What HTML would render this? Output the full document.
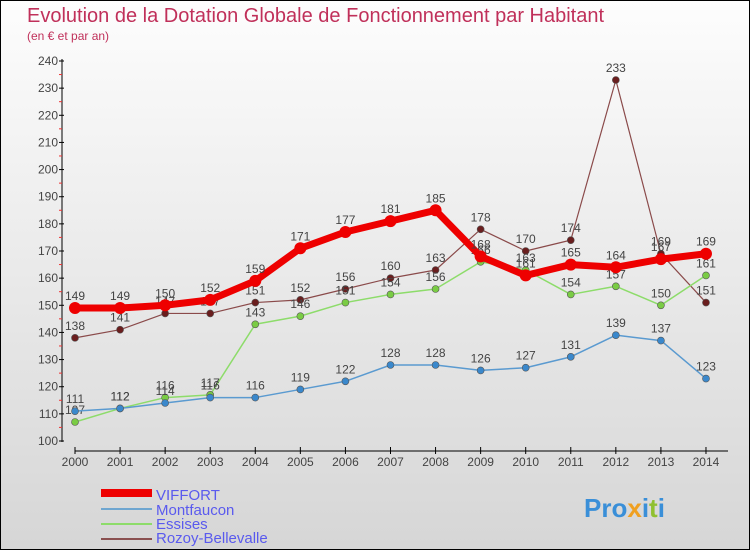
<!DOCTYPE html>
<html><head><meta charset="utf-8"><style>
body{margin:0}
#c{width:750px;height:550px;position:relative;box-sizing:border-box;border:1px solid #000;background:linear-gradient(#fdfdfd,#d6d6d6);font-family:"Liberation Sans",sans-serif;overflow:hidden}
</style></head><body>
<div id="c">
<svg id="s" width="748" height="548" style="position:absolute;left:0;top:0" font-family="Liberation Sans, sans-serif">
<text x="26" y="21" font-size="20" fill="#c0305a">Evolution de la Dotation Globale de Fonctionnement par Habitant</text>
<text x="26" y="39" font-size="12" fill="#c0305a">(en € et par an)</text>
<g id="axes"></g><g id="series"></g>
<g>
<rect x="100" y="488" width="51" height="8" fill="#e00"/>
<text x="155" y="499" font-size="15" fill="#5a5aee">VIFFORT</text>
<rect x="100" y="507" width="51" height="2" fill="#6fa6d0"/>
<text x="155" y="514" font-size="15" fill="#5a5aee">Montfaucon</text>
<rect x="100" y="522" width="51" height="2" fill="#8ddc6a"/>
<text x="155" y="528" font-size="15" fill="#5a5aee">Essises</text>
<rect x="100" y="537" width="51" height="2" fill="#8a5050"/>
<text x="155" y="542" font-size="15" fill="#5a5aee">Rozoy-Bellevalle</text>
</g>
<text x="583" y="516" font-size="26" font-weight="bold" fill="#3a8fd8">Pro<tspan fill="#f0a020">x</tspan><tspan fill="#3a8fd8">i</tspan><tspan fill="#90c030">t</tspan><tspan fill="#3a8fd8">i</tspan></text>
</svg>
</div>
<script>
const years=[2000,2001,2002,2003,2004,2005,2006,2007,2008,2009,2010,2011,2012,2013,2014];
const viffort=[149,149,150,152,159,171,177,181,185,168,161,165,164,167,169];
const montfaucon=[111,112,114,116,116,119,122,128,128,126,127,131,139,137,123];
const essises=[107,112,116,117,143,146,151,154,156,166,163,154,157,150,161];
const rozoy=[138,141,147,147,151,152,156,160,163,178,170,174,233,169,151];
const yTicks=[100,110,120,130,140,150,160,170,180,190,200,210,220,230,240];
const NS="http://www.w3.org/2000/svg";
const X=i=>74+i*45.07;
const Y=v=>440-(v-100)*(380/140);
function mk(t,a,p){const e=document.createElementNS(NS,t);for(const k in a)e.setAttribute(k,a[k]);p.appendChild(e);return e;}
const ax=document.getElementById('axes');
let l=mk('line',{x1:61,y1:58,x2:61,y2:441,stroke:'#000'},ax);


l=mk('line',{x1:74,y1:450,x2:727,y2:450,stroke:'#000'},ax);


yTicks.forEach(v=>{const y=Y(v);mk('line',{x1:58,y1:y,x2:63,y2:y,stroke:'#000'},ax);
 if(v<240)mk('line',{x1:58,y1:y-13.6,x2:61,y2:y-13.6,stroke:'#e33'},ax);
 const t=mk('text',{x:57,y:y+4,'font-size':12,'text-anchor':'end',fill:'#444'},ax);t.textContent=v;
 
 });
years.forEach((yr,i)=>{const x=X(i);mk('line',{x1:x,y1:446,x2:x,y2:453,stroke:'#000'},ax);
 const t=mk('text',{x:x,y:465,'font-size':12,'text-anchor':'middle',fill:'#444'},ax);t.textContent=yr;
 
 });
const sg=document.getElementById('series');
function series(name,d,col,w,r,fill){const g=mk('g',{},sg);
 
 
 mk('polyline',{points:d.map((v,i)=>X(i)+','+Y(v)).join(' '),fill:'none',stroke:col,'stroke-width':w,'stroke-linejoin':'round'},g);
 d.forEach((v,i)=>{const c=mk('circle',{cx:X(i),cy:Y(v),r:r,fill:fill,stroke:'#555','stroke-width':r>5?0:0.6},g);
  
  
  const t=mk('text',{x:X(i),y:Y(v)-8,'font-size':12,'text-anchor':'middle',fill:'#444'},g);t.textContent=v;
  
  });}
series('rozoy',rozoy,'#8a4a4a',1.2,3.5,'#6a1e1e');
series('essises',essises,'#8ddc6a',1.5,3.5,'#7acc44');
series('montfaucon',montfaucon,'#5a9ad0',1.5,3.5,'#3a88cc');
series('viffort',viffort,'#ee0000',7,6,'#ee0000');
</script>
</body></html>
